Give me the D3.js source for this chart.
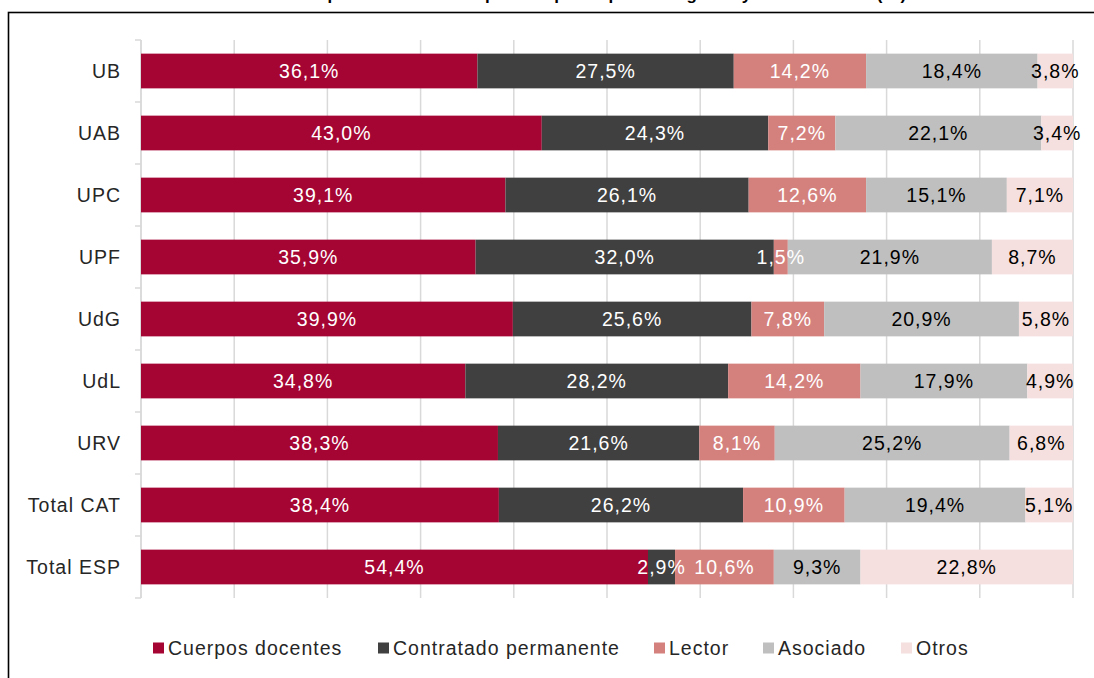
<!DOCTYPE html>
<html lang="en">
<head>
    <meta charset="UTF-8">
    <title>PDI por categoría</title>
    <script src="https://cdnjs.cloudflare.com/ajax/libs/d3/7.8.5/d3.min.js"></script>
    <style>
    html, body {
        margin: 0;
        background: white;
    }
    svg text {
        font-family: 'Liberation Sans', Arial, sans-serif;
    }
    .lbl {
        font-size: 19.5px;
        letter-spacing: 1px;
    }
    </style>
</head>
<body>
    <div id="chart"></div>
    <script>
    // data
    var universities = ['UB', 'UAB', 'UPC', 'UPF', 'UdG', 'UdL', 'URV', 'Total CAT', 'Total ESP'];
    var categories = ['Cuerpos docentes', 'Contratado permanente', 'Lector', 'Asociado', 'Otros'];
    var cuerpos     = [36.1, 43.0, 39.1, 35.9, 39.9, 34.8, 38.3, 38.4, 54.4];
    var contratado  = [27.5, 24.3, 26.1, 32.0, 25.6, 28.2, 21.6, 26.2, 2.9];
    var lector      = [14.2, 7.2, 12.6, 1.5, 7.8, 14.2, 8.1, 10.9, 10.6];
    var asociado    = [18.4, 22.1, 15.1, 21.9, 20.9, 17.9, 25.2, 19.4, 9.3];
    var otros       = [3.8, 3.4, 7.1, 8.7, 5.8, 4.9, 6.8, 5.1, 22.8];
    var xTicks = [0, 10, 20, 30, 40, 50, 60, 70, 80, 90, 100];

    var colors = ['#a50533', '#404040', '#d4817e', '#bfbfbf', '#f5e0df'];
    var labelColors = ['#fff', '#fff', '#fff', '#000', '#000'];

    var width = 1094;
    var height = 678;

    var margin = {
        top: 40,
        bottom: 80,
        left: 141,
        right: 21
    };

    var svg = d3.select('#chart')
        .append('svg')
            .attr('width', width)
            .attr('height', height);

    // title, cut off at the top of the picture as in the source
    svg.append('text')
        .attr('x', 14)
        .attr('y', 0)
        .attr('font-weight', 'bold')
        .attr('font-size', 17)
        .attr('textLength', 1062)
        .attr('fill', '#000')
        .text('Gráfico 4. Distribución del PDI equivalente a tiempo completo por categoría y universidad (%). Curso 2017-2018');

    // outer frame
    svg.append('rect')
        .attr('x', 8.5)
        .attr('y', 12.5)
        .attr('width', 1200)
        .attr('height', 800)
        .attr('fill', 'none')
        .attr('stroke', '#000')
        .attr('stroke-width', 1.6);

    var innerW = width - margin.left - margin.right;
    var innerH = height - margin.top - margin.bottom;

    var g = svg.append('g')
        .attr('transform', 'translate(' + margin.left + ',' + margin.top + ')');

    var x = d3.scaleLinear()
        .domain([0, 100])
        .range([0, innerW]);

    var y = d3.scaleBand()
        .domain(universities)
        .range([0, innerH])
        .paddingInner(0.44)
        .paddingOuter(0.22);

    // vertical gridlines
    g.selectAll('.grid')
        .data(xTicks)
        .enter()
        .append('line')
        .attr('class', 'grid')
        .attr('x1', function(d){ return x(d); })
        .attr('x2', function(d){ return x(d); })
        .attr('y1', 0)
        .attr('y2', innerH)
        .attr('stroke', '#d9d9d9')
        .attr('stroke-width', 1.5);

    // left axis with category ticks on band boundaries
    var bounds = universities.map(function(d){ return y(d) - y.step() * y.paddingInner() / 2; });
    bounds.push(innerH);
    g.append('line')
        .attr('x1', 0).attr('x2', 0)
        .attr('y1', 0).attr('y2', innerH)
        .attr('stroke', '#d9d9d9')
        .attr('stroke-width', 1.5);
    g.selectAll('.ytick')
        .data(bounds)
        .enter()
        .append('line')
        .attr('class', 'ytick')
        .attr('x1', -6).attr('x2', 0)
        .attr('y1', function(d){ return d; })
        .attr('y2', function(d){ return d; })
        .attr('stroke', '#d9d9d9')
        .attr('stroke-width', 1.5);

    g.selectAll('.ylabel')
        .data(universities)
        .enter()
        .append('text')
        .attr('class', 'ylabel lbl')
        .attr('x', -20)
        .attr('y', function(d){ return y(d) + y.bandwidth() / 2; })
        .attr('dy', '0.35em')
        .attr('text-anchor', 'end')
        .attr('fill', '#262626')
        .text(function(d){ return d; });

    // stack the series
    var table = universities.map(function(u, i){
        return {
            uni: u,
            'Cuerpos docentes': cuerpos[i],
            'Contratado permanente': contratado[i],
            'Lector': lector[i],
            'Asociado': asociado[i],
            'Otros': otros[i]
        };
    });

    var series = d3.stack().keys(categories)(table);

    var fmt = function(v){ return v.toFixed(1).replace('.', ',') + '%'; };

    var layers = g.selectAll('.layer')
        .data(series)
        .enter()
        .append('g')
        .attr('class', 'layer')
        .attr('fill', function(d, i){ return colors[i]; });

    layers.selectAll('rect')
        .data(function(d){ return d; })
        .enter()
        .append('rect')
        .attr('x', function(d){ return x(d[0]); })
        .attr('y', function(d){ return y(d.data.uni); })
        .attr('width', function(d){ return x(d[1]) - x(d[0]); })
        .attr('height', y.bandwidth());

    var labels = g.selectAll('.labels')
        .data(series)
        .enter()
        .append('g')
        .attr('class', 'labels')
        .attr('fill', function(d, i){ return labelColors[i]; });

    labels.selectAll('text')
        .data(function(d){ return d; })
        .enter()
        .append('text')
        .attr('class', 'lbl')
        .attr('x', function(d){ return x((d[0] + d[1]) / 2); })
        .attr('y', function(d){ return y(d.data.uni) + y.bandwidth() / 2; })
        .attr('dy', '0.35em')
        .attr('text-anchor', 'middle')
        .text(function(d){ return fmt(d[1] - d[0]); });

    // legend
    var legendX = [153, 378, 654, 763, 901];
    var legend = svg.selectAll('.legend')
        .data(categories)
        .enter()
        .append('g')
        .attr('class', 'legend')
        .attr('transform', function(d, i){ return 'translate(' + legendX[i] + ',648)'; });

    legend.append('rect')
        .attr('x', 0)
        .attr('y', -5.5)
        .attr('width', 11)
        .attr('height', 11)
        .attr('fill', function(d, i){ return colors[i]; });

    legend.append('text')
        .attr('class', 'lbl')
        .attr('x', 15)
        .attr('y', 0)
        .attr('dy', '0.35em')
        .attr('fill', '#262626')
        .text(function(d){ return d; });
    </script>
</body>
</html>
